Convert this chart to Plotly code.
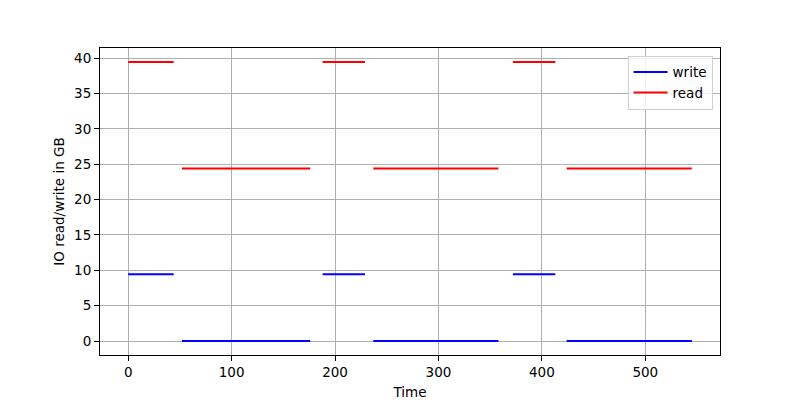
import plotly.graph_objects as go

# segment boundaries (start, end) along the time axis
seg_starts = [0, 52, 188, 237, 372, 424]
seg_ends = [44, 176, 229, 358, 413, 545]
write_levels = [9.45, 0, 9.45, 0, 9.45, 0]
read_levels = [39.45, 24.4, 39.45, 24.4, 39.45, 24.4]


def _segments(starts, ends, levels):
    xs, ys = [], []
    for s, e, v in zip(starts, ends, levels):
        xs += [s, e, None]
        ys += [v, v, None]
    return xs, ys


wx, wy = _segments(seg_starts, seg_ends, write_levels)
rx, ry = _segments(seg_starts, seg_ends, read_levels)

fig = go.Figure()
fig.add_trace(go.Scatter(x=wx, y=wy, mode="lines", name="write",
                         line=dict(color="blue", width=2)))
fig.add_trace(go.Scatter(x=rx, y=ry, mode="lines", name="read",
                         line=dict(color="red", width=2)))

axis_style = dict(
    showgrid=True, gridcolor="#b0b0b0", gridwidth=0.8,
    showline=True, linecolor="black", linewidth=1, mirror=True,
    ticks="outside", ticklen=5, tickcolor="black",
    zeroline=False, tickfont=dict(size=13.5, color="black"),
    automargin=False,
)

# the page body adds an 8px offset, so margins are shifted to compensate
fig.update_layout(
    width=800, height=400,
    paper_bgcolor="white", plot_bgcolor="white",
    font=dict(family="DejaVu Sans", size=13.5, color="black"),
    margin=dict(l=92, r=88, t=40, b=53),
    showlegend=True,
    legend=dict(x=0.988, y=0.975, xanchor="right", yanchor="top",
                bgcolor="rgba(255,255,255,0.8)", bordercolor="#d0d0d0",
                borderwidth=1, font=dict(size=13.5), tracegroupgap=0,
                itemwidth=34),
)
fig.update_xaxes(axis_style, range=[-27.25, 572.25], tickvals=[0, 100, 200, 300, 400, 500],
                 title=dict(text="Time", standoff=8, font=dict(size=13.5)))
fig.update_yaxes(axis_style, range=[-1.97, 41.42], tickvals=list(range(0, 45, 5)),
                 title=dict(text="IO read/write in GB", standoff=6, font=dict(size=13.5)))

fig.write_html("out.html")
